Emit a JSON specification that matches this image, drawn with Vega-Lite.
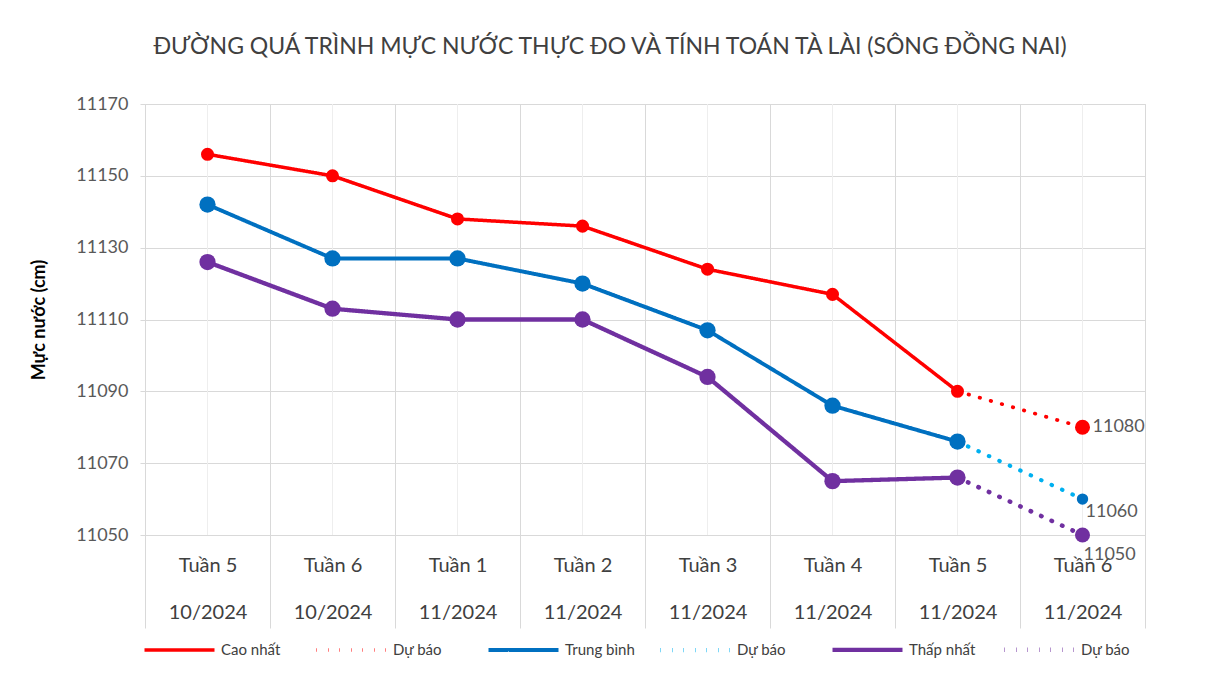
{
  "$schema": "https://vega.github.io/schema/vega-lite/v6.json",
  "width": 1000,
  "height": 431,
  "autosize": {"type": "none"},
  "padding": {"left": 145, "top": 104, "right": 77, "bottom": 140},
  "background": "white",
  "config": {
    "font": "Lato",
    "view": {"stroke": "#d9d9d9", "strokeWidth": 1}
  },
  "title": {
    "text": "ĐƯỜNG QUÁ TRÌNH MỰC NƯỚC THỰC ĐO VÀ TÍNH TOÁN TÀ LÀI (SÔNG ĐỒNG NAI)",
    "font": "Lato",
    "fontSize": 23,
    "fontWeight": "normal",
    "color": "#404040",
    "anchor": "middle",
    "dx": -35,
    "offset": 36
  },
  "data": {
    "values": [
      {"c": "Tuần 5|10/2024", "s": "Cao nhất", "v": 11156},
      {"c": "Tuần 6|10/2024", "s": "Cao nhất", "v": 11150},
      {"c": "Tuần 1|11/2024", "s": "Cao nhất", "v": 11138},
      {"c": "Tuần 2|11/2024", "s": "Cao nhất", "v": 11136},
      {"c": "Tuần 3|11/2024", "s": "Cao nhất", "v": 11124},
      {"c": "Tuần 4|11/2024", "s": "Cao nhất", "v": 11117},
      {"c": "Tuần 5|11/2024", "s": "Cao nhất", "v": 11090},
      {"c": "Tuần 5|11/2024", "s": "Dự báo|1", "v": 11090},
      {"c": "Tuần 6|11/2024", "s": "Dự báo|1", "v": 11080},
      {"c": "Tuần 5|10/2024", "s": "Trung bình", "v": 11142},
      {"c": "Tuần 6|10/2024", "s": "Trung bình", "v": 11127},
      {"c": "Tuần 1|11/2024", "s": "Trung bình", "v": 11127},
      {"c": "Tuần 2|11/2024", "s": "Trung bình", "v": 11120},
      {"c": "Tuần 3|11/2024", "s": "Trung bình", "v": 11107},
      {"c": "Tuần 4|11/2024", "s": "Trung bình", "v": 11086},
      {"c": "Tuần 5|11/2024", "s": "Trung bình", "v": 11076},
      {"c": "Tuần 5|11/2024", "s": "Dự báo|2", "v": 11076},
      {"c": "Tuần 6|11/2024", "s": "Dự báo|2", "v": 11060},
      {"c": "Tuần 5|10/2024", "s": "Thấp nhất", "v": 11126},
      {"c": "Tuần 6|10/2024", "s": "Thấp nhất", "v": 11113},
      {"c": "Tuần 1|11/2024", "s": "Thấp nhất", "v": 11110},
      {"c": "Tuần 2|11/2024", "s": "Thấp nhất", "v": 11110},
      {"c": "Tuần 3|11/2024", "s": "Thấp nhất", "v": 11094},
      {"c": "Tuần 4|11/2024", "s": "Thấp nhất", "v": 11065},
      {"c": "Tuần 5|11/2024", "s": "Thấp nhất", "v": 11066},
      {"c": "Tuần 5|11/2024", "s": "Dự báo|3", "v": 11066},
      {"c": "Tuần 6|11/2024", "s": "Dự báo|3", "v": 11050}
    ]
  },
  "encoding": {
    "x": {
      "field": "c",
      "type": "nominal",
      "sort": null,
      "bandPosition": 0.5,
      "scale": {"type": "band", "paddingInner": 0, "paddingOuter": 0},
      "axis": {
        "title": null,
        "labelExpr": "split(datum.label, '|')",
        "labelAngle": 0,
        "labelFontSize": 20,
        "labelColor": "#404040",
        "labelLineHeight": 47,
        "labelBaseline": "top",
        "labelPadding": -73,
        "tickBand": "extent",
        "tickSize": 93,
        "tickColor": "#d9d9d9",
        "grid": true,
        "gridColor": "#d9d9d9",
        "domainColor": "#d9d9d9"
      }
    },
    "y": {
      "field": "v",
      "type": "quantitative",
      "scale": {"domain": [11050, 11170], "zero": false, "nice": false},
      "axis": {
        "title": "Mực nước (cm)",
        "titleFontSize": 18,
        "titleFontWeight": "bold",
        "titleColor": "#000000",
        "titlePadding": 27,
        "values": [11050, 11070, 11090, 11110, 11130, 11150, 11170],
        "format": "d",
        "labelFontSize": 18,
        "labelColor": "#595959",
        "labelPadding": 12,
        "tickSize": 5,
        "tickColor": "#d9d9d9",
        "gridColor": "#d9d9d9",
        "domain": false
      }
    },
    "fill": {
      "field": "s",
      "type": "nominal",
      "scale": {
        "domain": ["Cao nhất", "Dự báo|1", "Trung bình", "Dự báo|2", "Thấp nhất", "Dự báo|3"],
        "range": ["#ff0000", "#ff0000", "#0070c0", "#0070c0", "#7030a0", "#7030a0"]
      },
      "legend": null
    }
  },
  "layer": [
    {
      "mark": {"type": "rule", "color": "#eeeeee", "strokeWidth": 1},
      "encoding": {"y": null, "fill": null}
    },
    {
      "mark": {"type": "line", "strokeCap": "round", "strokeJoin": "round"},
      "encoding": {
        "fill": null,
        "stroke": {
          "field": "s",
          "type": "nominal",
          "scale": {
            "domain": ["Cao nhất", "Dự báo|1", "Trung bình", "Dự báo|2", "Thấp nhất", "Dự báo|3"],
            "range": ["#ff0000", "#ff0000", "#0070c0", "#00b0f0", "#7030a0", "#7030a0"]
          },
          "legend": {
            "title": null,
            "orient": "none",
            "legendX": -3,
            "legendY": 508,
            "direction": "horizontal",
            "columns": 6,
            "gridAlign": "all",
            "columnPadding": 16,
            "symbolType": "stroke",
            "symbolSize": 4900,
            "symbolOpacity": 1,
            "labelFontSize": 15,
            "labelColor": "#404040",
            "labelOffset": 4,
            "labelExpr": "split(datum.label, '|')[0]"
          }
        },
        "strokeDash": {
          "field": "s",
          "type": "nominal",
          "scale": {
            "domain": ["Cao nhất", "Dự báo|1", "Trung bình", "Dự báo|2", "Thấp nhất", "Dự báo|3"],
            "range": [[1, 0], [0.5, 11], [1, 0], [0.5, 11], [1, 0], [0.5, 11]]
          },
          "legend": null
        },
        "strokeWidth": {
          "field": "s",
          "type": "nominal",
          "scale": {
            "domain": ["Cao nhất", "Dự báo|1", "Trung bình", "Dự báo|2", "Thấp nhất", "Dự báo|3"],
            "range": [3.5, 4.5, 4.5, 4.5, 4.5, 4.5]
          },
          "legend": null
        }
      }
    },
    {
      "transform": [{"filter": "datum.s == 'Cao nhất'"}],
      "mark": {"type": "point", "filled": true, "opacity": 1, "size": 170}
    },
    {
      "transform": [{"filter": "datum.s == 'Trung bình' || datum.s == 'Thấp nhất'"}],
      "mark": {"type": "point", "filled": true, "opacity": 1, "size": 265}
    },
    {
      "transform": [{"filter": "(datum.s == 'Dự báo|1' || datum.s == 'Dự báo|3') && datum.c == 'Tuần 6|11/2024'"}],
      "mark": {"type": "point", "filled": true, "opacity": 1, "size": 225}
    },
    {
      "transform": [{"filter": "datum.s == 'Dự báo|2' && datum.c == 'Tuần 6|11/2024'"}],
      "mark": {"type": "point", "filled": true, "opacity": 1, "size": 130}
    },
    {
      "transform": [{"filter": "datum.s == 'Dự báo|1' && datum.c == 'Tuần 6|11/2024'"}],
      "mark": {"type": "text", "align": "left", "baseline": "middle", "dx": 10, "dy": 0, "fontSize": 18, "color": "#595959"},
      "encoding": {"fill": null, "text": {"field": "v", "type": "quantitative", "format": "d"}}
    },
    {
      "transform": [{"filter": "datum.s == 'Dự báo|2' && datum.c == 'Tuần 6|11/2024'"}],
      "mark": {"type": "text", "align": "left", "baseline": "middle", "dx": 3, "dy": 13, "fontSize": 18, "color": "#595959"},
      "encoding": {"fill": null, "text": {"field": "v", "type": "quantitative", "format": "d"}}
    },
    {
      "transform": [{"filter": "datum.s == 'Dự báo|3' && datum.c == 'Tuần 6|11/2024'"}],
      "mark": {"type": "text", "align": "left", "baseline": "middle", "dx": 1, "dy": 20, "fontSize": 18, "color": "#595959"},
      "encoding": {"fill": null, "text": {"field": "v", "type": "quantitative", "format": "d"}}
    }
  ]
}
